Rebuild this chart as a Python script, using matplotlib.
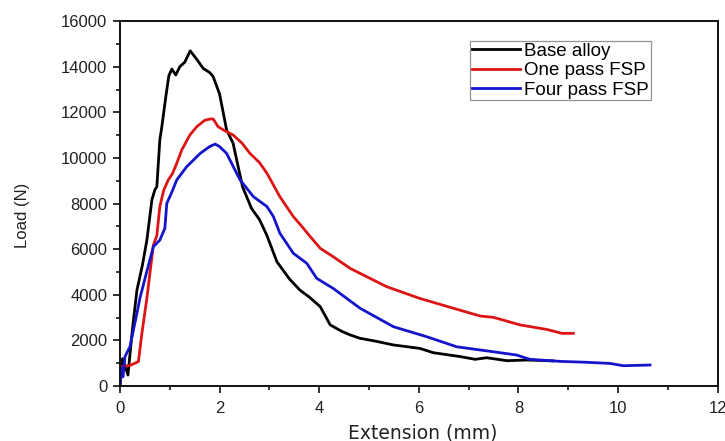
import matplotlib
matplotlib.use("Agg")
import matplotlib.pyplot as plt
from matplotlib.ticker import MultipleLocator

plt.rcParams['font.family'] = ['Liberation Sans', 'DejaVu Sans']

base_x = [0.0, 0.05, 0.1, 0.16, 0.25, 0.34, 0.45, 0.54, 0.64, 0.7, 0.74, 0.8, 0.84, 0.92, 0.98, 1.04,
          1.12, 1.2, 1.3, 1.41, 1.55, 1.67, 1.8, 1.87, 2.0, 2.14, 2.27, 2.46, 2.64, 2.8, 2.95, 3.15,
          3.4, 3.61, 3.8, 4.02, 4.22, 4.45, 4.62, 4.82, 5.1, 5.49, 6.02, 6.29, 6.83, 7.13, 7.36,
          7.77, 8.17, 8.7]
base_y = [0, 1200, 900, 480, 2500, 4200, 5300, 6400, 8160, 8600, 8740, 10800, 11370, 12690, 13600, 13900,
          13640, 14000, 14200, 14700, 14300, 13930, 13750, 13570, 12800, 11230, 10650, 8740, 7790, 7300, 6600, 5450,
          4700, 4210, 3900, 3480, 2680, 2400, 2240, 2090, 1980, 1800, 1650, 1460, 1290, 1170, 1240,
          1110, 1140, 1100]

one_x = [0.0, 0.01, 0.2, 0.37, 0.44, 0.54, 0.67, 0.74, 0.8, 0.88, 0.97, 1.05, 1.14, 1.24, 1.4, 1.54,
         1.7, 1.81, 1.87, 1.97, 2.1, 2.27, 2.45, 2.61, 2.8, 2.95, 3.21, 3.48, 3.65, 3.82, 4.02, 4.28,
         4.62, 4.82, 5.35, 6.02, 6.63, 7.23, 7.5, 8.03, 8.57, 8.87, 9.1]
one_y = [500, 850, 900, 1070, 2310, 3850, 6180, 6600, 7870, 8600, 9040, 9300, 9770, 10350, 11000, 11370,
         11650, 11710, 11710, 11370, 11200, 11010, 10650, 10200, 9800, 9330, 8300, 7430, 7000, 6550, 6040, 5670,
         5160, 4940, 4360, 3840, 3450, 3070, 3010, 2680, 2480, 2310, 2310]

four_x = [0.0, 0.03, 0.06, 0.1, 0.2, 0.34, 0.4, 0.5, 0.67, 0.8, 0.9, 0.94, 1.04, 1.14, 1.34, 1.61,
          1.8, 1.91, 2.0, 2.14, 2.41, 2.68, 2.95, 3.08, 3.21, 3.48, 3.75, 3.95, 4.28, 4.82, 5.49,
          6.16, 6.76, 7.5, 7.96, 8.23, 8.84, 9.37, 9.84, 10.1, 10.64]
four_y = [0, 800, 400, 1290, 1720, 3190, 3850, 4700, 6110, 6400, 6910, 8010, 8500, 9040, 9620, 10200,
          10500, 10610, 10500, 10200, 9040, 8300, 7870, 7430, 6700, 5820, 5380, 4720, 4280, 3410, 2600,
          2160, 1720, 1500, 1360, 1170, 1080, 1040, 990, 890, 920]

labels = ["Base alloy", "One pass FSP", "Four pass FSP"]
colors = ["#000000", "#dd1414", "#1414cc"]

fig = plt.figure(figsize=(7.25, 4.41), dpi=100)
ax = fig.add_axes([0.1655, 0.1247, 0.8245, 0.8273])

ax.plot(base_x, base_y, color=colors[0], lw=2.0, label=labels[0])
ax.plot(one_x, one_y, color=colors[1], lw=2.0, label=labels[1])
ax.plot(four_x, four_y, color=colors[2], lw=2.0, label=labels[2])

ax.set_xlim(0, 12)
ax.set_ylim(0, 16000)
ax.xaxis.set_major_locator(MultipleLocator(2))
ax.xaxis.set_minor_locator(MultipleLocator(1))
ax.yaxis.set_major_locator(MultipleLocator(2000))
ax.yaxis.set_minor_locator(MultipleLocator(1000))
ax.tick_params(which='major', direction='out', length=5, width=1.3, labelsize=12, colors='#222222')
ax.tick_params(which='minor', direction='out', length=3, width=1.1)
ax.tick_params(axis='x', which='major', pad=6)
ax.tick_params(axis='y', which='major', pad=4)
ax.tick_params(top=False, right=False, which='both')
for s in ax.spines.values():
    s.set_linewidth(1.4)
    s.set_color('#111111')

ax.set_xlabel("Extension (mm)", fontsize=13.5, color='#222222', family=['DejaVu Sans'])
ax.set_ylabel("Load (N)", fontsize=12, color='#222222')
ax.xaxis.set_label_coords(0.506, -0.102)
ax.yaxis.set_label_coords(-0.1505, 0.468)

leg = ax.legend(loc='upper left', bbox_to_anchor=(0.585, 0.946), fontsize=13.5, frameon=True,
                fancybox=False, handlelength=2.6, handletextpad=0.2, borderpad=0.1,
                labelspacing=0.12, borderaxespad=0)
leg.get_frame().set_edgecolor('#777777')
leg.get_frame().set_linewidth(0.9)

fig.savefig("out.png", dpi=100)
